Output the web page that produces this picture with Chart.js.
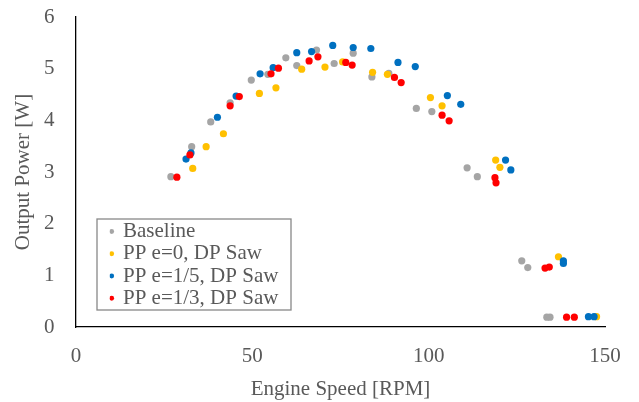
<!DOCTYPE html>
<html><head><meta charset="utf-8">
<script src="https://cdn.jsdelivr.net/npm/chart.js@4"></script>
<style>html,body{margin:0;padding:0;background:#fff}</style>
</head><body>
<canvas id="c" width="639" height="402"></canvas>
<script>
// ---- data ----
const seriesNames = ['Baseline', 'PP e=0, DP Saw', 'PP e=1/5, DP Saw', 'PP e=1/3, DP Saw'];
const seriesColors = ['#A5A5A5', '#FFC000', '#0070C0', '#FF0000'];

const baselineRpm   = [26.9, 32.8, 38.2, 43.7, 49.7, 54.4, 59.5, 62.6, 68.2, 73.2, 78.6, 83.9, 88.7, 96.5, 100.9, 110.9, 113.8, 126.4, 128.1, 133.5, 134.4];
const baselinePower = [2.91, 3.49, 3.97, 4.34, 4.78, 4.89, 5.21, 5.06, 5.36, 5.10, 5.30, 4.84, 4.91, 4.23, 4.17, 3.08, 2.91, 1.28, 1.15, 0.19, 0.19];

const ppE0Rpm   = [33.1, 36.9, 41.8, 52.0, 56.7, 64.0, 70.6, 75.6, 84.1, 88.3, 100.5, 103.8, 119.0, 120.2, 136.8, 147.6];
const ppE0Power = [3.07, 3.49, 3.74, 4.52, 4.63, 4.99, 5.03, 5.13, 4.93, 4.89, 4.44, 4.28, 3.23, 3.09, 1.36, 0.20];

const ppE15Rpm   = [31.2, 32.6, 40.1, 45.4, 52.2, 55.9, 62.6, 66.8, 72.8, 78.6, 83.6, 91.3, 96.2, 105.3, 109.1, 121.8, 123.3, 138.2, 138.2, 145.3, 146.9];
const ppE15Power = [3.25, 3.37, 4.06, 4.47, 4.90, 5.02, 5.31, 5.33, 5.45, 5.41, 5.39, 5.12, 5.04, 4.48, 4.31, 3.23, 3.04, 1.28, 1.23, 0.20, 0.20];

const ppE13Rpm   = [28.6, 32.3, 43.7, 46.3, 55.3, 57.4, 66.1, 68.6, 76.5, 78.3, 90.3, 92.2, 103.8, 105.8, 118.8, 119.1, 133.0, 134.2, 139.1, 141.3];
const ppE13Power = [2.90, 3.33, 4.28, 4.46, 4.90, 5.01, 5.15, 5.23, 5.12, 5.07, 4.83, 4.73, 4.10, 3.99, 2.89, 2.79, 1.14, 1.16, 0.19, 0.19];

const xTicks = [0, 50, 100, 150];
const yTicks = [0, 1, 2, 3, 4, 5, 6];
const xTitle = 'Engine Speed [RPM]';
const yTitle = 'Output Power [W]';

// ---- build ----
const pairs = (xs, ys) => xs.map((x, i) => ({x: x, y: ys[i]}));
const seriesX = [baselineRpm, ppE0Rpm, ppE15Rpm, ppE13Rpm];
const seriesY = [baselinePower, ppE0Power, ppE15Power, ppE13Power];
const drawOrder = [3, 2, 1, 0]; // later series drawn on top

const datasets = seriesNames.map((name, i) => ({
  label: name,
  data: pairs(seriesX[i], seriesY[i]),
  backgroundColor: seriesColors[i],
  borderColor: seriesColors[i],
  pointRadius: 3.6,
  pointBorderWidth: 0,
  order: drawOrder[i]
}));

const FONT = 'Liberation Serif, "Times New Roman", serif';
const TXT = '#595959';

const legendFrame = {
  id: 'legendFrame',
  afterLayout(chart) {
    const lg = chart.legend;
    if (!lg) return;
    lg.left = 109.65;
    lg.right = chart.chartArea.right;
    lg.bottom = 310;
    lg.top = chart.chartArea.top;
  },
  beforeDraw(chart) {
    const c = chart.ctx;
    c.save();
    c.fillStyle = '#ffffff';
    c.fillRect(97, 219, 194, 91);
    c.strokeStyle = '#888888';
    c.lineWidth = 1.3;
    c.strokeRect(97, 219, 194, 91);
    c.restore();
  }
};

new Chart(document.getElementById('c'), {
  type: 'scatter',
  data: {datasets},
  plugins: [legendFrame],
  options: {
    responsive: false,
    animation: false,
    devicePixelRatio: 1,
    layout: {padding: {left: 0, right: 34, top: 17, bottom: 0}},
    plugins: {
      tooltip: {enabled: false},
      title: {display: false},
      legend: {
        display: true,
        position: 'chartArea',
        align: 'end',
        labels: {
          usePointStyle: true,
          pointStyle: 'circle',
          boxWidth: 1.6,
          boxHeight: 3.4,
          padding: 1.25,
          color: TXT,
          font: {family: FONT, size: 21},
          sort: (a, b) => a.datasetIndex - b.datasetIndex
        }
      }
    },
    scales: {
      x: {
        type: 'linear',
        position: 'bottom',
        min: 0, max: 150,
        afterBuildTicks: s => { s.ticks = xTicks.map(v => ({value: v})); },
        afterFit: s => { s.height = 75; s.paddingLeft = 0; s.paddingRight = 0; },
        grid: {display: true, drawOnChartArea: false, drawTicks: false},
        border: {display: true, color: '#000000', width: 1.3},
        ticks: {color: TXT, font: {family: FONT, size: 21}, padding: 16.4, maxRotation: 0},
        title: {display: true, text: xTitle, color: TXT, font: {family: FONT, size: 21}, padding: {top: 0, bottom: 0.4}}
      },
      y: {
        type: 'linear',
        position: 'left',
        min: 0, max: 6,
        afterBuildTicks: s => { s.ticks = yTicks.map(v => ({value: v})); },
        afterFit: s => { s.width = 76; s.paddingTop = 0; s.paddingBottom = 0; },
        grid: {display: true, drawOnChartArea: false, drawTicks: false},
        border: {display: true, color: '#000000', width: 1.3},
        ticks: {color: TXT, font: {family: FONT, size: 21}, padding: 21.5},
        title: {display: true, text: yTitle, color: TXT, font: {family: FONT, size: 21}, padding: {top: 10.4, bottom: 0}}
      }
    }
  }
});
</script>
</body></html>
